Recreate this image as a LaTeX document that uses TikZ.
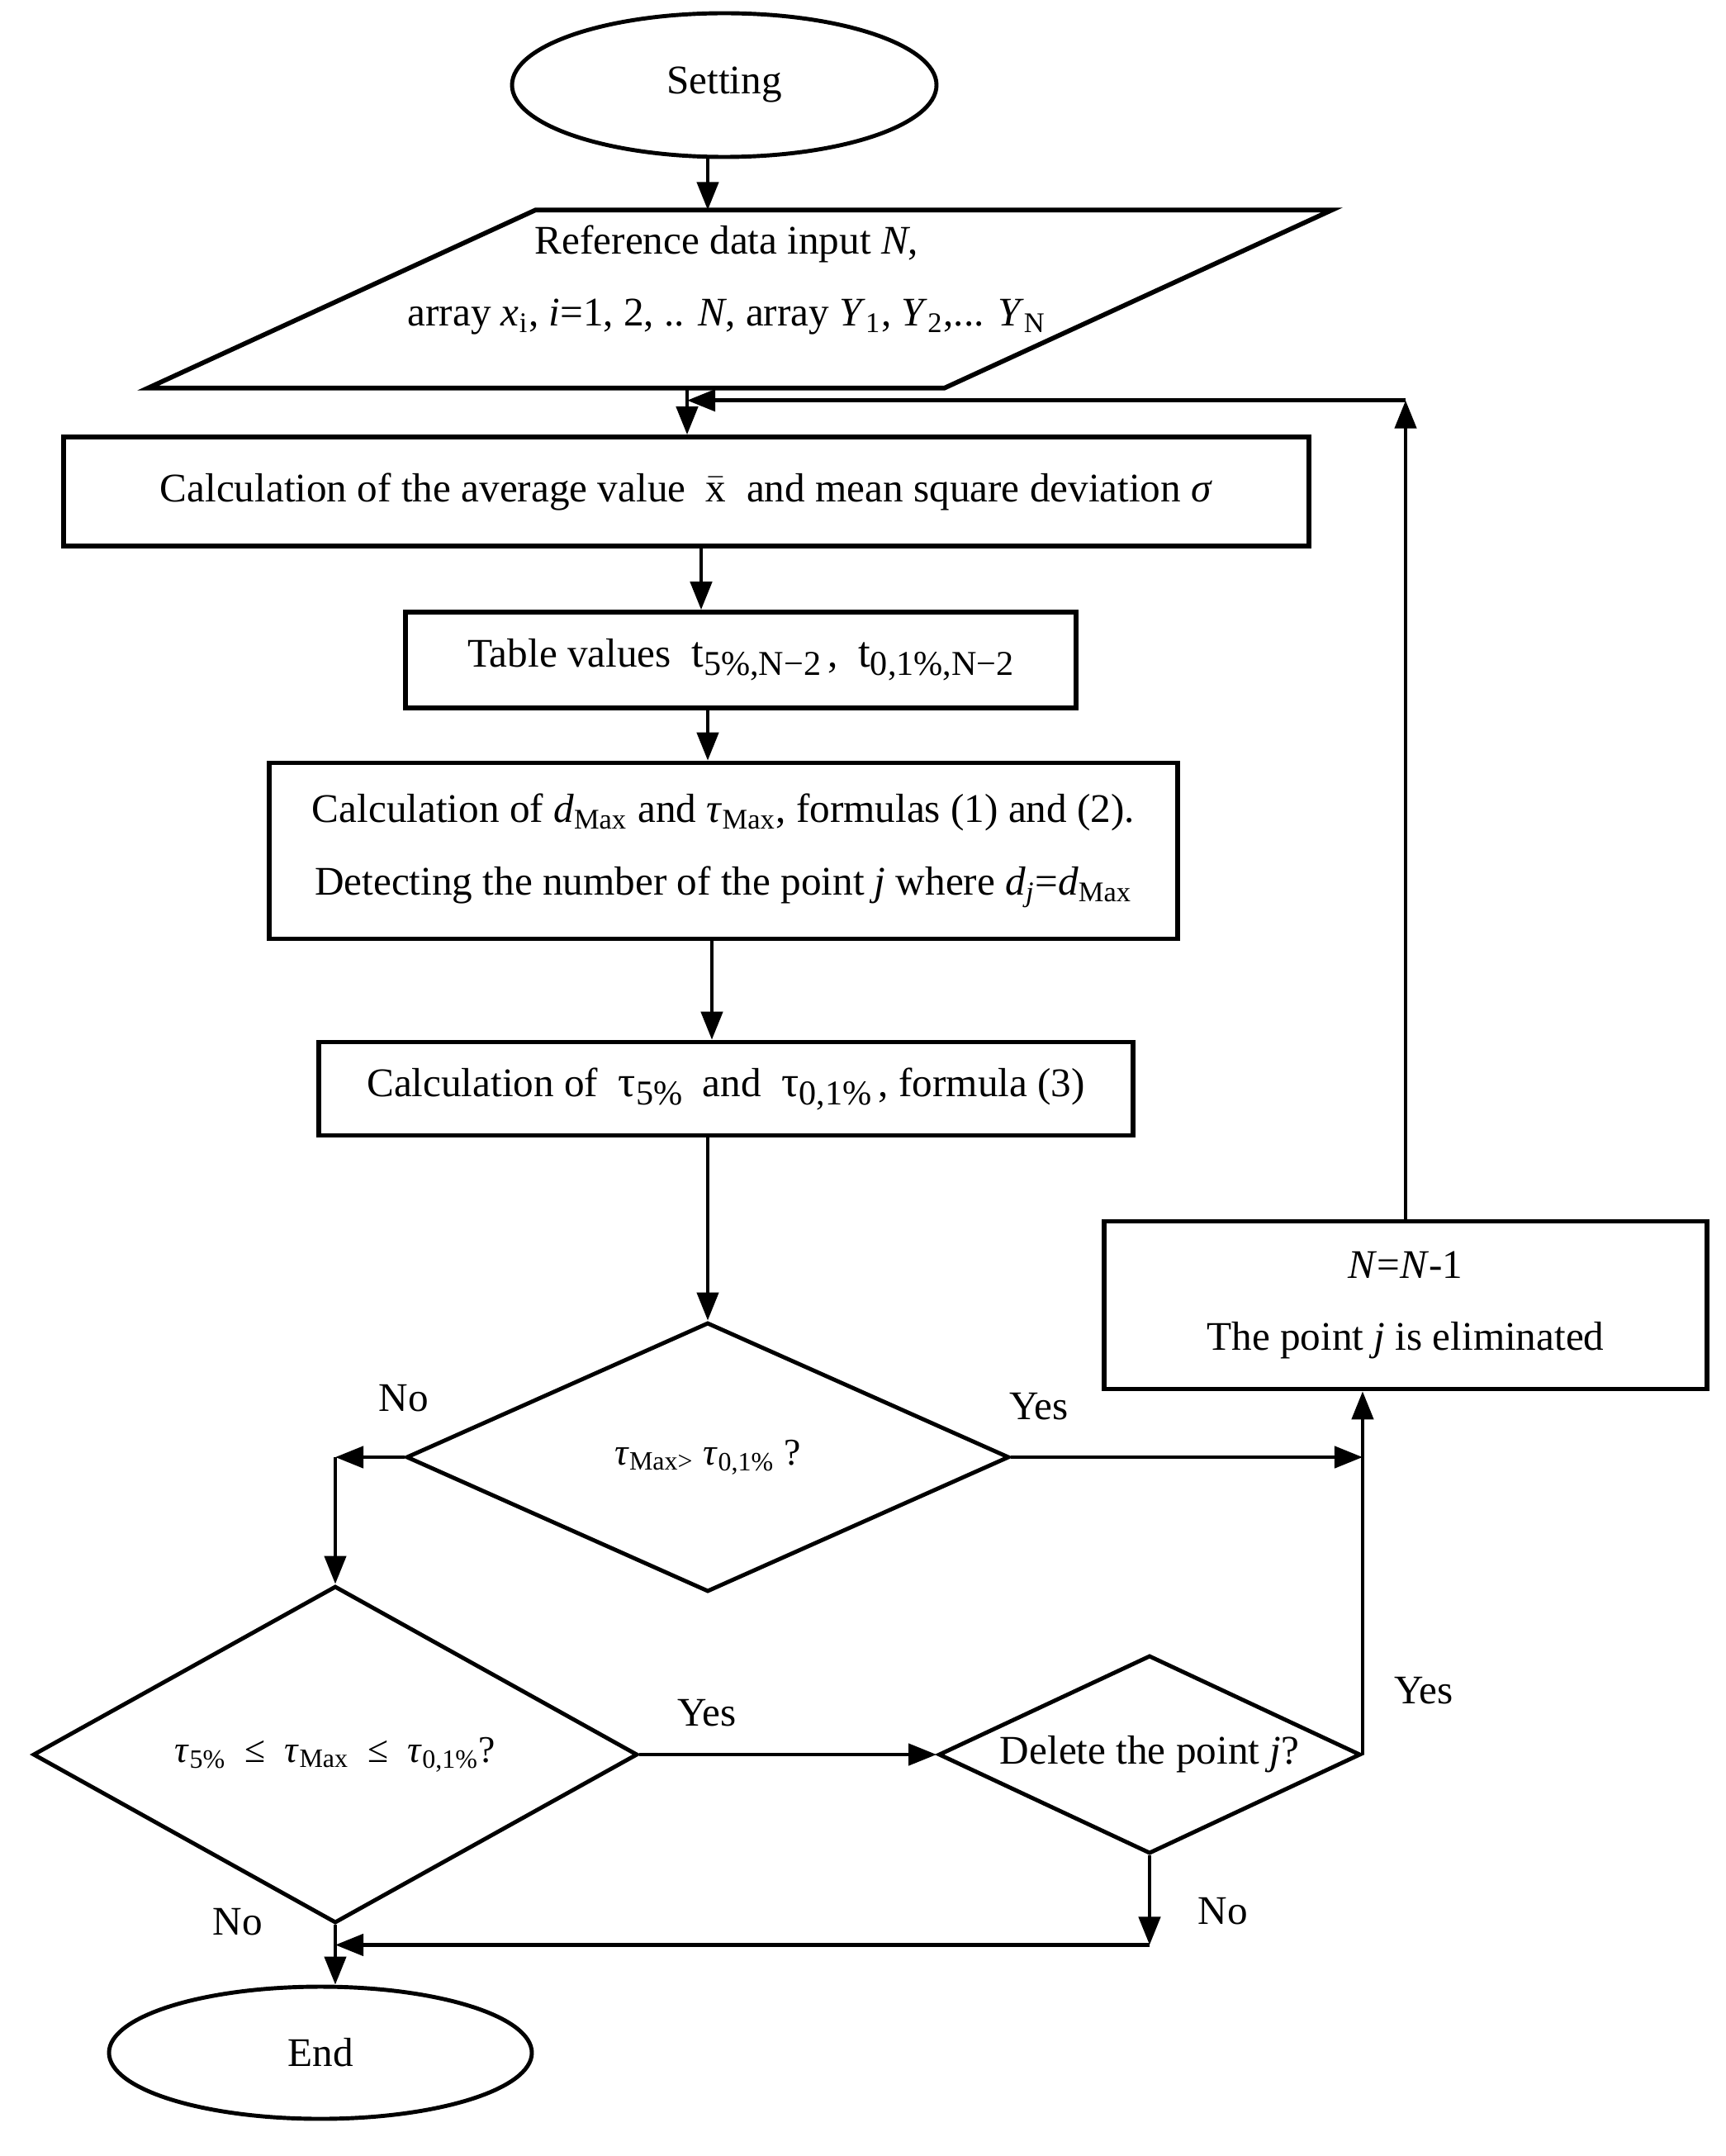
\documentclass[tikz,border=0pt]{standalone}
\usepackage{fontspec}
\setmainfont{Liberation Serif}
\usetikzlibrary{arrows.meta,shapes.geometric,calc}
\newcommand{\lowsub}[1]{\raisebox{-0.45ex}{\fontsize{12}{12}\selectfont #1}}

\begin{document}
\begin{tikzpicture}[font=\fontsize{14}{25}\selectfont, >={Triangle[length=0.34cm,width=0.26cm]},
    block/.style={draw, line width=1.6pt, align=center, inner sep=0pt},
    term/.style={draw, ellipse, line width=1.4pt, inner sep=0pt},
    test/.style={draw, diamond, line width=1.4pt, inner sep=0pt, align=center},
    link/.style={->, line width=1.3pt}]
  \useasboundingbox (0,0) rectangle (20.89,-26.10);
  \node[term, minimum width=5.14cm, minimum height=1.74cm] (setting) at (8.77,-1.03) {Setting};
  %% input parallelogram
  \node[minimum width=9.63cm, minimum height=2.14cm, inner sep=0pt] (input) at (8.96,-3.62) {};
  \draw[line width=1.6pt] ([xshift=-2.345cm]input.south west) -- ([xshift=-2.345cm]input.south east)
    -- ([xshift=2.345cm]input.north east) -- ([xshift=2.345cm]input.north west) -- cycle;
  \node[align=center] (inputtxt) at ([shift={(-0.16,0.23)}]input.center)
    {Reference data input \textit{N},\\
     array \textit{x}\textsubscript{i}, \textit{i}=1, 2, .. \textit{N}, array \textit{Y}\textsubscript{1}, \textit{Y}\textsubscript{2},... \textit{Y}\textsubscript{N}};
  \node[block, minimum width=15.08cm, minimum height=1.32cm] (avg) at (8.31,-5.95)
    {Calculation of the average value \ $\bar{\mathrm{x}}$ \ and mean square deviation \textit{σ}};
  \node[block, minimum width=8.12cm, minimum height=1.16cm] (table) at (8.97,-7.99)
    {Table values \ {\fontsize{15}{15}\selectfont t}\lowsub{5\%,N−2}\,,\ \ {\fontsize{15}{15}\selectfont t}\lowsub{0,1\%,N−2}};
  \node[block, minimum width=11.00cm, minimum height=2.13cm] (calc) at (8.76,-10.30)
    {Calculation of \textit{d}\textsubscript{Max} and \textit{τ}\textsubscript{Max}, formulas (1) and (2).\\
     Detecting the number of the point \textit{j} where \textit{d}\textsubscript{\textit{j}}=\textit{d}\textsubscript{Max}};
  \node[block, minimum width=9.86cm, minimum height=1.13cm] (tau) at (8.79,-13.18)
    {Calculation of \ {\fontsize{15}{15}\selectfont τ}\lowsub{5\%} \ and \ {\fontsize{15}{15}\selectfont τ}\lowsub{0,1\%}\,, formula (3)};
  \node[test, aspect=2.24, minimum width=7.30cm, minimum height=3.26cm, font=\fontsize{13}{15}\selectfont] (dec1) at (8.57,-17.64)
    {\textit{τ}\textsubscript{Max>} \textit{τ}\textsubscript{0,1\%} ?};
  \node[test, aspect=1.79, minimum width=7.32cm, minimum height=4.08cm, font=\fontsize{13}{15}\selectfont] (dec2) at (4.06,-21.24)
    {\textit{τ}\textsubscript{5\%} \ ≤ \ \textit{τ}\textsubscript{Max} \ ≤ \ \textit{τ}\textsubscript{0,1\%}?};
  \node[test, aspect=2.13, minimum width=5.11cm, minimum height=2.40cm] (dec3) at (13.92,-21.24)
    {Delete the point \textit{j}?};
  \node[block, minimum width=7.30cm, minimum height=2.03cm] (elim) at (17.02,-15.80)
    {\textit{N}=\textit{N}-1\\ The point \textit{j} is eliminated};
  \node[term, minimum width=5.12cm, minimum height=1.60cm] (finish) at (3.88,-24.85) {End};
  %% main chain
  \foreach \from/\to/\dx in {setting/input/-0.2, input/avg/-0.64, avg/table/0.18,
                             table/calc/-0.40, calc/tau/-0.14, tau/dec1/-0.22}
    \draw[link] let \p1=($(\from.south)+(\dx,0)$), \p2=(\to.north) in (\p1) -- (\x1,\y2);
  %% loop back
  \coordinate (merge) at ($(input.south)+(-0.64,-0.15)$);
  \coordinate (back) at (elim.north |- merge);
  \draw[link] (elim.north) -- (back);
  \draw[link] (back) -- (merge);
  %% branches
  \coordinate (noturn) at (dec2.north |- dec1.west);
  \draw[link] (dec1.west) -- (noturn);
  \draw[link] (noturn) -- (dec2.north);
  \coordinate (yesjoin) at (dec3.east |- dec1.east);
  \draw[link] (dec1.east) -- (yesjoin);
  \draw[link] (dec3.east) -- (dec3.east |- elim.south);
  \draw[link] (dec2.east) -- (dec3.west);
  \coordinate (nodrop) at ($(dec3.south)+(0,-1.08)$);
  \coordinate (nojoin) at (dec2.south |- nodrop);
  \draw[link] (dec3.south) -- (nodrop);
  \draw[link] (nodrop) -- (nojoin);
  \draw[link] (dec2.south) -- (dec2.south |- finish.north);
  %% labels
  \node (no1) at (4.89,-16.93) {No};
  \node (yes1) at (12.58,-17.03) {Yes};
  \node (yes2) at (8.56,-20.74) {Yes};
  \node (yes3) at (17.24,-20.47) {Yes};
  \node (no2) at (14.81,-23.14) {No};
  \node (no3) at (2.88,-23.27) {No};
\end{tikzpicture}
\end{document}
